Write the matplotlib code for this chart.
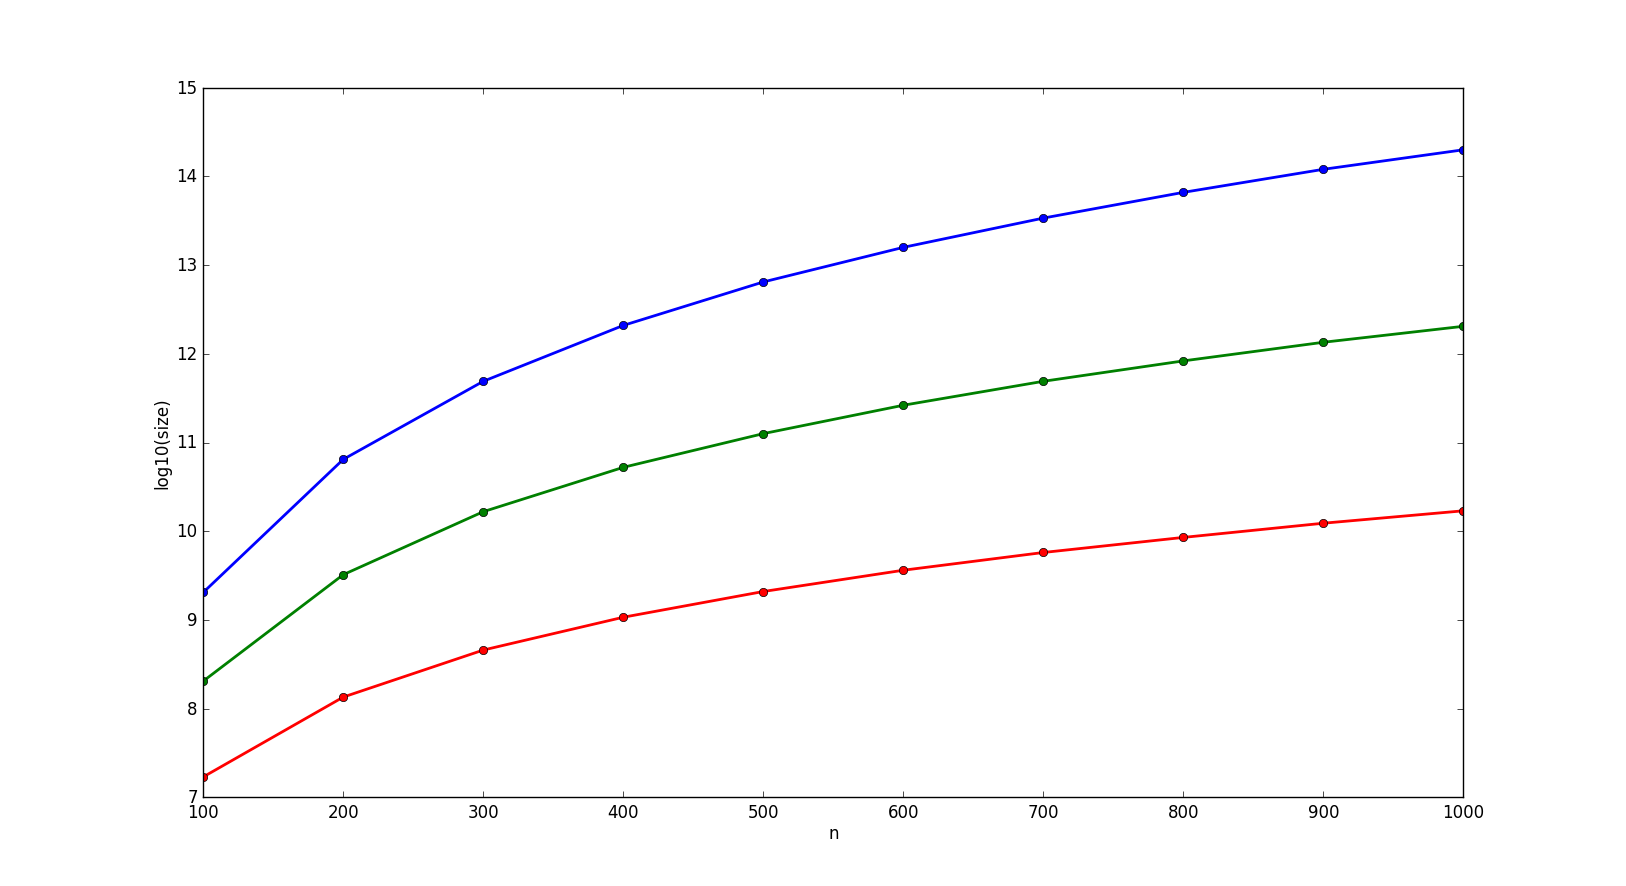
import matplotlib
matplotlib.use("Agg")
import matplotlib.pyplot as plt

# Data
n = [100, 200, 300, 400, 500, 600, 700, 800, 900, 1000]
blue = [9.31, 10.81, 11.69, 12.32, 12.81, 13.20, 13.53, 13.82, 14.08, 14.30]
green = [8.31, 9.51, 10.22, 10.72, 11.10, 11.42, 11.69, 11.92, 12.13, 12.31]
red = [7.23, 8.13, 8.66, 9.03, 9.32, 9.56, 9.76, 9.93, 10.09, 10.23]

plt.style.use('classic')
fig = plt.figure(figsize=(16.26, 8.87), dpi=100, facecolor='white')
ax = fig.add_subplot(111)

ax.plot(n, blue, 'b-o', linewidth=2)
ax.plot(n, green, 'g-o', linewidth=2)
ax.plot(n, red, 'r-o', linewidth=2)

ax.set_xlim(100, 1000)
ax.set_ylim(7, 15)
ax.set_xlabel('n', labelpad=2)
ax.set_ylabel('log10(size)', labelpad=3.5)

fig.savefig('out.png', dpi=100, facecolor='white')
